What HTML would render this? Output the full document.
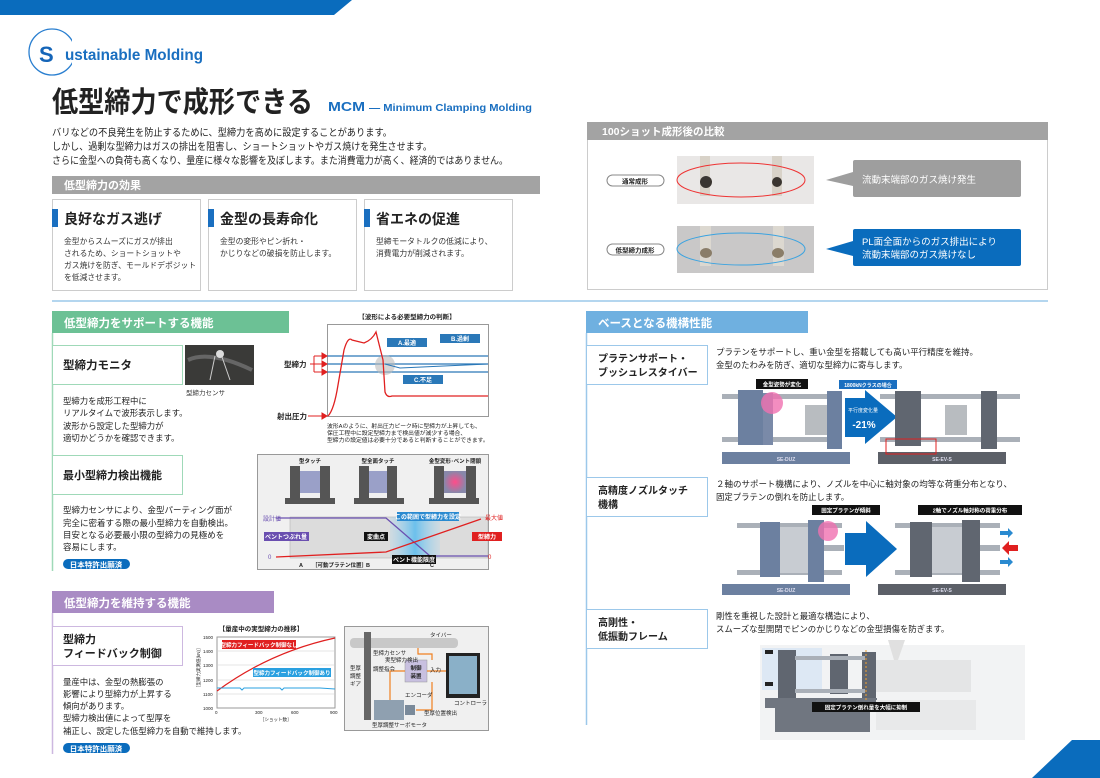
<!DOCTYPE html>
<html><head><meta charset="utf-8"><style>
html,body{margin:0;padding:0;background:#fff;width:1100px;height:778px;overflow:hidden}
svg{display:block}
text{font-family:"Liberation Sans","Noto Sans CJK JP",sans-serif}
</style></head><body>
<svg width="1100" height="778" viewBox="0 0 1100 778" xmlns="http://www.w3.org/2000/svg">
<defs>
<linearGradient id="bg1" x1="0" x2="1"><stop offset="0" stop-color="#9fd3f0" stop-opacity="0.2"/><stop offset="0.5" stop-color="#6cc0ec"/><stop offset="1" stop-color="#9fd3f0" stop-opacity="0.2"/></linearGradient>
<radialGradient id="pk"><stop offset="0" stop-color="#ff4c8a"/><stop offset="1" stop-color="#8888aa"/></radialGradient>
</defs>
<polygon points="0,0 352,0 334,15 0,15" fill="#0a6cbd"/>
<polygon points="1100,740 1100,778 1032,778 1072,740" fill="#0a6cbd"/>
<circle cx="52" cy="52" r="23" fill="none" stroke="#2a7fd0" stroke-width="1.3"/>
<rect x="72" y="35" width="12" height="35" fill="#fff"/>
<text x="39" y="62" font-size="22" font-weight="bold" fill="#1565b8">S</text>
<text x="65" y="60" font-size="16" font-weight="bold" fill="#1a6fc0" textLength="138" lengthAdjust="spacingAndGlyphs">ustainable Molding</text>
<text x="52" y="112" font-size="29" font-weight="bold" fill="#222" textLength="261" lengthAdjust="spacingAndGlyphs">低型締力で成形できる</text>
<text x="328" y="111" font-size="13" font-weight="bold" fill="#1a6fc0" textLength="37" lengthAdjust="spacingAndGlyphs">MCM</text>
<text x="369" y="111" font-size="10" font-weight="bold" fill="#1a6fc0" textLength="163" lengthAdjust="spacingAndGlyphs">— Minimum Clamping Molding</text>
<g font-size="10" fill="#222">
<text x="52" y="136" textLength="340" lengthAdjust="spacingAndGlyphs">バリなどの不良発生を防止するために、型締力を高めに設定することがあります。</text>
<text x="52" y="150" textLength="380" lengthAdjust="spacingAndGlyphs">しかし、過剰な型締力はガスの排出を阻害し、ショートショットやガス焼けを発生させます。</text>
<text x="52" y="164" textLength="456" lengthAdjust="spacingAndGlyphs">さらに金型への負荷も高くなり、量産に様々な影響を及ぼします。また消費電力が高く、経済的ではありません。</text>
</g>
<rect x="52" y="176" width="488" height="18" fill="#a3a3a3"/>
<text x="64" y="189" font-size="11" font-weight="bold" fill="#fff">低型締力の効果</text>
<g fill="#fff" stroke="#ccc">
<rect x="52.5" y="199.5" width="148" height="91"/>
<rect x="208.5" y="199.5" width="148" height="91"/>
<rect x="364.5" y="199.5" width="148" height="91"/>
</g>
<g fill="#1a6fc0"><rect x="52" y="209" width="6" height="18"/><rect x="208" y="209" width="6" height="18"/><rect x="364" y="209" width="6" height="18"/></g>
<g font-size="14" font-weight="bold" fill="#222">
<text x="64" y="224">良好なガス逃げ</text><text x="220" y="224">金型の長寿命化</text><text x="376" y="224">省エネの促進</text>
</g>
<g font-size="7.8" fill="#333">
<text x="64" y="244">金型からスムーズにガスが排出</text>
<text x="64" y="256">されるため、ショートショットや</text>
<text x="64" y="268">ガス焼けを防ぎ、モールドデポジット</text>
<text x="64" y="280">を低減させます。</text>
<text x="220" y="244">金型の変形やピン折れ・</text>
<text x="220" y="256">かじりなどの破損を防止します。</text>
<text x="376" y="244">型締モータトルクの低減により、</text>
<text x="376" y="256">消費電力が削減されます。</text>
</g>
<rect x="587.5" y="122.5" width="460" height="167" fill="#fff" stroke="#ccc"/>
<rect x="587" y="122" width="461" height="18" fill="#a3a3a3"/>
<text x="602" y="135" font-size="10.5" font-weight="bold" fill="#fff">100ショット成形後の比較</text>
<rect x="607" y="175" width="57" height="11" rx="5.5" fill="#fff" stroke="#888"/>
<text x="635" y="183.5" font-size="6.5" font-weight="bold" text-anchor="middle" fill="#222">通常成形</text>
<rect x="607" y="244" width="57" height="11" rx="5.5" fill="#fff" stroke="#888"/>
<text x="635" y="252.5" font-size="6.5" font-weight="bold" text-anchor="middle" fill="#222">低型締力成形</text>
<rect x="677" y="156" width="137" height="48" fill="#e9e7e6"/>
<g fill="#d8d2c8"><rect x="700" y="156" width="10" height="40"/><rect x="772" y="156" width="10" height="40"/></g>
<circle cx="706" cy="182" r="6" fill="#3a3530"/><circle cx="777" cy="182" r="5" fill="#3a3530"/>
<ellipse cx="741" cy="180" rx="64" ry="17" fill="none" stroke="#e33" stroke-width="1"/>
<rect x="677" y="226" width="137" height="47" fill="#c9c8c8"/>
<g fill="#dcd8d0"><rect x="700" y="226" width="11" height="40"/><rect x="773" y="226" width="11" height="40"/></g>
<ellipse cx="706" cy="253" rx="6" ry="5" fill="#8a7d68"/><ellipse cx="778" cy="253" rx="6" ry="5" fill="#8a7d68"/>
<ellipse cx="741" cy="249" rx="64" ry="16" fill="none" stroke="#3ba3e0" stroke-width="1"/>
<polygon points="826,180 853,172 853,186" fill="#9e9e9e"/>
<rect x="853" y="160" width="168" height="37" rx="2" fill="#9e9e9e"/>
<text x="862" y="183" font-size="9.5" fill="#fff">流動末端部のガス焼け発生</text>
<polygon points="826,249 853,241 853,256" fill="#0a6cbd"/>
<rect x="853" y="229" width="168" height="37" rx="2" fill="#0a6cbd"/>
<text x="862" y="245" font-size="9.5" fill="#fff">PL面全面からのガス排出により</text>
<text x="862" y="258" font-size="9.5" fill="#fff">流動末端部のガス焼けなし</text>
<line x1="52" y1="301" x2="1048" y2="301" stroke="#9cc8ea" stroke-width="1.5"/>
<rect x="52" y="311" width="237" height="22" fill="#6cc195"/>
<text x="64" y="327" font-size="11.5" font-weight="bold" fill="#fff">低型締力をサポートする機能</text>
<line x1="52.5" y1="333" x2="52.5" y2="571" stroke="#9fd9b8" stroke-width="1.5"/>
<rect x="52.5" y="345.5" width="130" height="39" fill="#fff" stroke="#9fd9b8"/>
<text x="63" y="369" font-size="11.5" font-weight="bold" fill="#222">型締力モニタ</text>
<rect x="185" y="345" width="69" height="40" fill="#3a3a38"/>
<path d="M188,360 Q210,350 252,370" stroke="#666" stroke-width="4" fill="none"/>
<circle cx="220" cy="354" r="4" fill="#ddd"/><path d="M215,356 L210,380 M222,357 L230,380" stroke="#ccc" stroke-width="1" fill="none"/>
<text x="186" y="395" font-size="6.5" fill="#333">型締力センサ</text>
<g font-size="8.4" fill="#222">
<text x="63" y="404">型締力を成形工程中に</text>
<text x="63" y="416">リアルタイムで波形表示します。</text>
<text x="63" y="429">波形から設定した型締力が</text>
<text x="63" y="441">適切かどうかを確認できます。</text>
</g>
<rect x="52.5" y="455.5" width="130" height="39" fill="#fff" stroke="#9fd9b8"/>
<text x="63" y="479" font-size="11" font-weight="bold" fill="#222">最小型締力検出機能</text>
<g font-size="8.5" fill="#222">
<text x="63" y="513">型締力センサにより、金型パーティング面が</text>
<text x="63" y="526">完全に密着する際の最小型締力を自動検出。</text>
<text x="63" y="538">目安となる必要最小限の型締力の見極めを</text>
<text x="63" y="550">容易にします。</text>
</g>
<rect x="63" y="559" width="67" height="10" rx="5" fill="#0a6cbd"/>
<text x="96" y="567.5" font-size="7.5" font-weight="bold" text-anchor="middle" fill="#fff">日本特許出願済</text>
<text x="407" y="319" font-size="6.5" font-weight="bold" text-anchor="middle" fill="#222">【波形による必要型締力の判断】</text>
<rect x="327.5" y="324.5" width="161" height="92" fill="#fff" stroke="#999"/>
<g stroke="#2a78b8" stroke-width="1.3"><line x1="327" y1="356" x2="488" y2="356"/><line x1="327" y1="364" x2="488" y2="364"/><line x1="327" y1="372" x2="488" y2="372"/></g>
<circle cx="385" cy="365" r="10" fill="#bbb" opacity="0.6"/>
<path d="M385,364 L400,368 L488,364" stroke="#2a78b8" stroke-width="1" fill="none"/>
<path d="M328,416 Q334,410 338,385 L344,350 Q348,336 352,340 L364,343 Q372,340 376,332 L383,360 L385,392 Q387,398 392,396 L488,396" stroke="#e02020" stroke-width="1.3" fill="none"/>
<g font-size="6" font-weight="bold" fill="#fff">
<rect x="387" y="338" width="40" height="9" fill="#2a78b8"/><text x="407" y="345" text-anchor="middle">A.最適</text>
<rect x="440" y="334" width="40" height="9" fill="#2a78b8"/><text x="460" y="341" text-anchor="middle">B.過剰</text>
<rect x="403" y="375" width="40" height="9" fill="#2a78b8"/><text x="423" y="382" text-anchor="middle">C.不足</text>
</g>
<text x="284" y="367" font-size="7.5" font-weight="bold" fill="#222">型締力</text>
<text x="277" y="419" font-size="7.5" font-weight="bold" fill="#222">射出圧力</text>
<g stroke="#e02020" stroke-width="1" fill="#e02020"><path d="M310,364 H314 M314,356 V372 M314,356 H322 M314,364 H322 M314,372 H322 M308,416 H322" fill="none"/>
<polygon points="322,353 327,356 322,359"/><polygon points="322,361 327,364 322,367"/><polygon points="322,369 327,372 322,375"/><polygon points="322,413 327,416 322,419"/></g>
<g font-size="5.8" fill="#222"><text x="327" y="428">波形Aのように、射出圧力ピーク時に型締力が上昇しても、</text><text x="327" y="435">保圧工程中に設定型締力まで検出値が減少する場合、</text><text x="327" y="442">型締力の設定値は必要十分であると判断することができます。</text></g>
<rect x="257.5" y="454.5" width="231" height="115" fill="#f0f0f0" stroke="#999"/>
<rect x="290" y="517" width="198" height="41" fill="#dcdcdc" stroke="#aaa" stroke-width="0.5"/>
<rect x="390" y="517" width="50" height="41" fill="url(#bg1)"/>
<g fill="#555"><rect x="290" y="466" width="10" height="32"/><rect x="320" y="466" width="10" height="32"/><rect x="285" y="498" width="50" height="6"/>
<rect x="359" y="466" width="10" height="32"/><rect x="387" y="466" width="10" height="32"/><rect x="354" y="498" width="50" height="6"/>
<rect x="434" y="466" width="10" height="32"/><rect x="466" y="466" width="10" height="32"/><rect x="429" y="498" width="50" height="6"/></g>
<rect x="300" y="471" width="20" height="22" fill="#9aa0c8"/><rect x="369" y="471" width="18" height="22" fill="#9aa0c8"/><rect x="444" y="471" width="22" height="22" fill="url(#pk)"/>
<g font-size="5.5" font-weight="bold" fill="#222" text-anchor="middle"><text x="310" y="463">型タッチ</text><text x="378" y="463">型全面タッチ</text><text x="455" y="463">金型変形･ベント閉鎖</text></g>
<polyline points="276,518 386,518 430,556 488,556" stroke="#6a4fb0" stroke-width="1.3" fill="none"/>
<polyline points="276,557 386,552 481,519" stroke="#e02020" stroke-width="1.3" fill="none"/>
<text x="263" y="521" font-size="6" fill="#6a4fb0">設計値</text>
<text x="268" y="559" font-size="6" fill="#6a4fb0">0</text><text x="488" y="559" font-size="6" fill="#e02020">0</text>
<g font-size="6" font-weight="bold" fill="#fff">
<rect x="264" y="532" width="45" height="9" fill="#6a4fb0"/><text x="286" y="539" text-anchor="middle">ベントつぶれ量</text>
<rect x="397" y="512" width="62" height="9" fill="#2a8ad0"/><text x="428" y="519" text-anchor="middle">この範囲で型締力を設定</text>
<rect x="364" y="532" width="24" height="9" fill="#111"/><text x="376" y="539" text-anchor="middle">変曲点</text>
<rect x="392" y="555" width="44" height="9" fill="#111"/><text x="414" y="562" text-anchor="middle">ベント機能限度</text>
<rect x="472" y="532" width="30" height="9" fill="#e02020"/><text x="487" y="539" text-anchor="middle">型締力</text>
</g>
<text x="485" y="520" font-size="6" fill="#e02020">最大値</text>
<g font-size="5.5" font-weight="bold" fill="#222"><text x="299" y="567">A</text><text x="312" y="567">［可動プラテン位置］</text><text x="366" y="567">B</text><text x="430" y="567">C</text></g>
<rect x="52" y="591" width="222" height="22" fill="#a98bc4"/>
<text x="64" y="607" font-size="11.5" font-weight="bold" fill="#fff">低型締力を維持する機能</text>
<line x1="52.5" y1="613" x2="52.5" y2="754" stroke="#cdb8e0" stroke-width="1.5"/>
<rect x="52.5" y="626.5" width="130" height="39" fill="#fff" stroke="#cdb8e0"/>
<text x="63" y="643" font-size="11" font-weight="bold" fill="#222">型締力</text>
<text x="63" y="657" font-size="11" font-weight="bold" fill="#222">フィードバック制御</text>
<g font-size="8.4" fill="#222">
<text x="63" y="685">量産中は、金型の熱膨張の</text>
<text x="63" y="697">影響により型締力が上昇する</text>
<text x="63" y="709">傾向があります。</text>
<text x="63" y="721">型締力検出値によって型厚を</text>
<text x="63" y="734">補正し、設定した低型締力を自動で維持します。</text>
</g>
<rect x="63" y="743" width="67" height="10" rx="5" fill="#0a6cbd"/>
<text x="96" y="751.5" font-size="7.5" font-weight="bold" text-anchor="middle" fill="#fff">日本特許出願済</text>
<text x="261" y="631" font-size="6.5" font-weight="bold" text-anchor="middle" fill="#222">【量産中の実型締力の推移】</text>
<rect x="217" y="637" width="118" height="71" fill="#fff" stroke="#999"/>
<g stroke="#ccc" stroke-width="0.5"><line x1="217" y1="651" x2="335" y2="651"/><line x1="217" y1="665" x2="335" y2="665"/><line x1="217" y1="680" x2="335" y2="680"/><line x1="217" y1="694" x2="335" y2="694"/></g>
<path d="M217,691 Q270,652 335,638" stroke="#e02020" stroke-width="1.2" fill="none"/>
<path d="M217,688 L240,688 L242,690 L244,688 L280,688 L282,690 L284,688 L320,688 L335,689" stroke="#2aa0e0" stroke-width="1" fill="none"/>
<rect x="222" y="640" width="74" height="9" fill="#e02020"/><text x="259" y="647" font-size="5.5" font-weight="bold" text-anchor="middle" fill="#fff">型締力フィードバック制御なし</text>
<rect x="253" y="668" width="78" height="9" fill="#2aa0e0"/><text x="292" y="675" font-size="5.5" font-weight="bold" text-anchor="middle" fill="#fff">型締力フィードバック制御あり</text>
<g font-size="4.5" fill="#222"><text x="203" y="639">1500</text><text x="203" y="653">1400</text><text x="203" y="667">1300</text><text x="203" y="682">1200</text><text x="203" y="696">1100</text><text x="203" y="710">1000</text>
<text x="215" y="714">0</text><text x="255" y="714">300</text><text x="291" y="714">600</text><text x="330" y="714">900</text><text x="260" y="721">［ショット数］</text></g>
<text x="200" y="690" font-size="4.5" fill="#222" transform="rotate(-90 200 690)">［型締力実測値(kN)］</text>
<rect x="344.5" y="626.5" width="144" height="104" fill="#f0f0f0" stroke="#999"/>
<rect x="350" y="638" width="108" height="10" rx="4" fill="#c8c8c8"/>
<rect x="364" y="632" width="7" height="88" fill="#666"/>
<rect x="374" y="700" width="30" height="20" fill="#8fa0b0"/><rect x="405" y="705" width="10" height="10" fill="#7a8a9a"/>
<rect x="405" y="660" width="22" height="22" fill="#c8c0e0" stroke="#999" stroke-width="0.5"/>
<text x="416" y="670" font-size="5.5" font-weight="bold" text-anchor="middle" fill="#222">制御</text><text x="416" y="678" font-size="5.5" font-weight="bold" text-anchor="middle" fill="#222">装置</text>
<rect x="446" y="653" width="34" height="45" fill="#222"/><rect x="449" y="656" width="28" height="38" fill="#8ab0c8"/>
<g stroke="#f08020" stroke-width="1.2" fill="none"><path d="M418,648 V654 H432 V660"/><path d="M405,671 H390 V700"/><path d="M446,671 H427"/><path d="M416,710 H432 V682"/></g>
<g font-size="5.5" fill="#222"><text x="430" y="637">タイバー</text><text x="373" y="655">型締力センサ</text><text x="385" y="662">実型締力検出</text><text x="373" y="671">調整指令</text><text x="430" y="672">入力</text>
<text x="350" y="670">型厚</text><text x="350" y="678">調整</text><text x="350" y="686">ギア</text><text x="405" y="697">エンコーダ</text><text x="424" y="715">型厚位置検出</text><text x="372" y="727">型厚調整サーボモータ</text><text x="454" y="705">コントローラ</text></g>
<rect x="586" y="311" width="222" height="22" fill="#6fb0e0"/>
<text x="598" y="327" font-size="11.5" font-weight="bold" fill="#fff">ベースとなる機構性能</text>
<line x1="586.5" y1="333" x2="586.5" y2="725" stroke="#9cc8ea" stroke-width="1.5"/>
<g fill="#fff" stroke="#9cc8ea"><rect x="586.5" y="345.5" width="121" height="39"/><rect x="586.5" y="477.5" width="121" height="39"/><rect x="586.5" y="609.5" width="121" height="39"/></g>
<g font-size="10" font-weight="bold" fill="#222">
<text x="598" y="362">プラテンサポート・</text><text x="598" y="376">ブッシュレスタイバー</text>
<text x="598" y="494">高精度ノズルタッチ</text><text x="598" y="508">機構</text>
<text x="598" y="626">高剛性・</text><text x="598" y="640">低振動フレーム</text>
</g>
<g font-size="8.4" fill="#222">
<text x="716" y="355" textLength="262" lengthAdjust="spacingAndGlyphs">プラテンをサポートし、重い金型を搭載しても高い平行精度を維持。</text>
<text x="716" y="368">金型のたわみを防ぎ、適切な型締力に寄与します。</text>
<text x="716" y="487" textLength="296" lengthAdjust="spacingAndGlyphs">２軸のサポート機構により、ノズルを中心に軸対象の均等な荷重分布となり、</text>
<text x="716" y="500">固定プラテンの倒れを防止します。</text>
<text x="716" y="619">剛性を重視した設計と最適な構造により、</text>
<text x="716" y="632">スムーズな型開閉でピンのかじりなどの金型損傷を防ぎます。</text>
</g>
<g fill="#aab0b8"><rect x="722" y="394" width="120" height="5"/><rect x="722" y="437" width="120" height="5"/><rect x="880" y="394" width="140" height="5"/><rect x="880" y="437" width="140" height="5"/></g>
<rect x="738" y="390" width="25" height="55" fill="#6c80a0"/><rect x="763" y="393" width="10" height="52" fill="#7a8aa8"/>
<rect x="805" y="405" width="22" height="30" fill="#b8bcc0"/><rect x="827" y="391" width="15" height="58" fill="#6c80a0"/>
<rect x="722" y="452" width="128" height="12" fill="#6c80a0"/><text x="786" y="461" font-size="5" font-weight="bold" text-anchor="middle" fill="#dde">SE-DUZ</text>
<circle cx="772" cy="403" r="11" fill="#f070b0" opacity="0.8"/>
<rect x="756" y="379" width="52" height="10" fill="#111"/><text x="782" y="386.5" font-size="5.5" font-weight="bold" text-anchor="middle" fill="#fff">金型姿勢が変化</text>
<rect x="839" y="380" width="58" height="9" fill="#1a6fc0"/><text x="868" y="387" font-size="5" font-weight="bold" text-anchor="middle" fill="#fff">1800kNクラスの場合</text>
<polygon points="845,398 865,398 865,390 897,417 865,444 865,437 845,437" fill="#0a6cbd"/>
<text x="863" y="412" font-size="5" text-anchor="middle" fill="#fff">平行度変化量</text><text x="864" y="428" font-size="10" font-weight="bold" text-anchor="middle" fill="#fff">-21%</text>
<rect x="895" y="391" width="26" height="55" fill="#606670"/><rect x="945" y="405" width="22" height="30" fill="#b8bcc0"/><rect x="981" y="391" width="16" height="58" fill="#606670"/>
<rect x="878" y="452" width="128" height="12" fill="#5c6068"/><text x="942" y="461" font-size="5" font-weight="bold" text-anchor="middle" fill="#dde">SE-EV-S</text>
<rect x="886" y="439" width="50" height="15" fill="none" stroke="#e02020" stroke-width="1"/>
<g fill="#aab0b8"><rect x="737" y="523" width="105" height="5"/><rect x="737" y="570" width="105" height="5"/><rect x="895" y="523" width="105" height="5"/><rect x="895" y="570" width="105" height="5"/></g>
<rect x="760" y="522" width="20" height="55" fill="#6c80a0"/><rect x="780" y="527" width="28" height="46" fill="#c8ccd2"/><rect x="808" y="520" width="16" height="62" fill="#6c80a0"/>
<rect x="824" y="545" width="20" height="6" fill="#aab0b8"/>
<circle cx="828" cy="531" r="10" fill="#f070b0" opacity="0.8"/>
<rect x="812" y="505" width="68" height="10" fill="#111"/><text x="846" y="512.5" font-size="5.5" font-weight="bold" text-anchor="middle" fill="#fff">固定プラテンが傾斜</text>
<rect x="722" y="584" width="128" height="11" fill="#6c80a0"/><text x="786" y="592" font-size="5" font-weight="bold" text-anchor="middle" fill="#dde">SE-DUZ</text>
<polygon points="845,533 866,533 866,521 897,549 866,577 866,565 845,565" fill="#0a6cbd"/>
<rect x="910" y="522" width="22" height="55" fill="#606670"/><rect x="932" y="527" width="30" height="46" fill="#c8ccd2"/><rect x="962" y="520" width="18" height="62" fill="#606670"/>
<rect x="980" y="545" width="20" height="6" fill="#aab0b8"/>
<polygon points="1000,531 1008,531 1008,528 1013,533 1008,538 1008,535 1000,535" fill="#2a8ad0"/>
<polygon points="1000,560 1008,560 1008,557 1013,562 1008,567 1008,564 1000,564" fill="#2a8ad0"/>
<polygon points="1018,545 1009,545 1009,541 1002,548 1009,555 1009,551 1018,551" fill="#e02020"/>
<rect x="918" y="505" width="104" height="10" fill="#111"/><text x="970" y="512.5" font-size="5.5" font-weight="bold" text-anchor="middle" fill="#fff">2軸でノズル軸対称の荷重分布</text>
<rect x="878" y="584" width="128" height="11" fill="#5c6068"/><text x="942" y="592" font-size="5" font-weight="bold" text-anchor="middle" fill="#dde">SE-EV-S</text>
<rect x="760" y="645" width="265" height="95" fill="#f2f3f4"/>
<rect x="762" y="648" width="60" height="42" fill="#dde8f4"/>
<rect x="765" y="650" width="8" height="4" fill="#222"/><rect x="765" y="682" width="8" height="4" fill="#222"/>
<rect x="778" y="650" width="18" height="48" fill="#606670"/><rect x="830" y="654" width="18" height="40" fill="#606670"/><rect x="862" y="652" width="14" height="46" fill="#606670"/>
<rect x="795" y="656" width="70" height="4" fill="#aab0b8"/><rect x="795" y="689" width="70" height="4" fill="#aab0b8"/>
<rect x="876" y="660" width="95" height="32" fill="#e4e5e6"/><polygon points="888,640 905,640 898,660 894,660" fill="#e0e0e0"/>
<rect x="765" y="698" width="112" height="10" fill="#707680"/><rect x="775" y="708" width="95" height="24" fill="#707680"/>
<rect x="876" y="700" width="100" height="30" fill="#e8e9ea"/>
<line x1="866" y1="650" x2="866" y2="700" stroke="#f0a030" stroke-width="1" stroke-dasharray="2,2"/>
<rect x="812" y="702" width="108" height="10" fill="#111"/><text x="866" y="709.5" font-size="5.5" font-weight="bold" text-anchor="middle" fill="#fff">固定プラテン倒れ量を大幅に抑制</text>
</svg>
</body></html>
